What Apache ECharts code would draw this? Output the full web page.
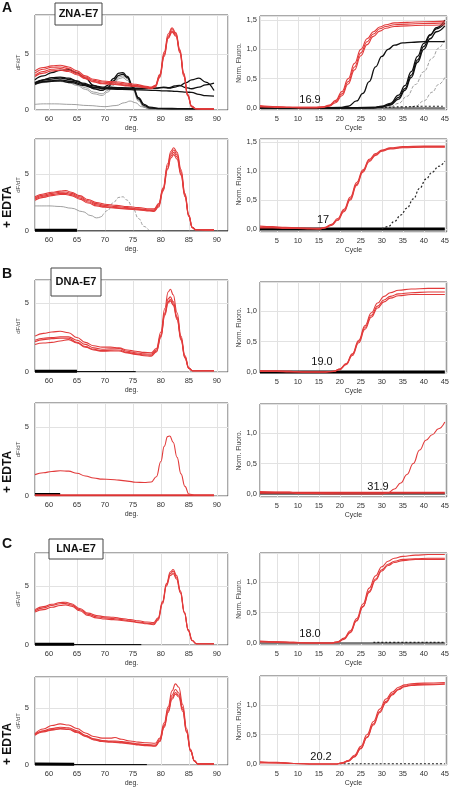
<!DOCTYPE html>
<html><head><meta charset="utf-8">
<script src="https://cdn.jsdelivr.net/npm/echarts@6/dist/echarts.min.js"></script>
<style>html,body{margin:0;padding:0;background:#fff}#c{width:452px;height:788px}</style>
</head><body><div id="c"></div>
<script>
// ---------------- DATA ----------------
// Panel A (ZNA-E7) melt curves
const AL_redX = [57.5,59,60.5,62,63.5,65,66.5,68,69.5,71,72.5,74,75.5,77,78.3,79,79.8,80.6,81.3,82,82.7,83.4,84.1,84.8,85.5,86.2,87.5,89.5];
const AL_red1 = [3.5,3.8,3.95,4.0,3.85,3.5,3.05,2.75,2.6,2.55,2.5,2.4,2.3,2.15,2.05,2.2,3.2,5.2,6.8,7.35,6.9,5.4,3.3,1.4,0.35,0.12,0.1,0.1];
const AL_red2 = [3.3,3.65,3.82,3.85,3.7,3.35,2.95,2.65,2.5,2.45,2.4,2.3,2.2,2.1,2.0,2.15,3.1,5.0,6.6,7.2,6.8,5.3,3.2,1.35,0.33,0.12,0.1,0.1];
const AL_red3 = [3.1,3.45,3.65,3.7,3.55,3.25,2.85,2.55,2.4,2.35,2.3,2.2,2.15,2.05,1.95,2.1,3.0,4.9,6.5,7.05,6.7,5.2,3.1,1.3,0.3,0.11,0.1,0.1];
const AL_red4 = [3.0,3.3,3.5,3.55,3.45,3.15,2.8,2.5,2.35,2.3,2.25,2.15,2.1,2.0,1.9,2.05,2.9,4.8,6.4,6.95,6.6,5.1,3.0,1.25,0.3,0.11,0.1,0.1];
const AL_bkX = [57.5,59,60.5,62,63.5,65,66.5,68,69.5,70.5,71.5,72.5,73.2,74,75,76,77,78,80,84,89.5];
const AL_bk1 = [2.7,3.05,3.35,3.55,3.6,3.35,2.85,2.2,1.9,2.2,2.8,3.3,3.35,3.0,2.1,1.1,0.5,0.25,0.15,0.12,0.1];
const AL_bk2 = [2.45,2.7,2.9,2.95,2.85,2.6,2.25,1.9,1.75,2.0,2.6,3.1,3.2,2.9,2.0,1.0,0.4,0.18,0.12,0.1,0.1];
const AL_gr1 = [2.35,2.55,2.65,2.65,2.55,2.3,2.0,1.6,1.45,1.75,2.4,2.95,3.05,2.8,1.9,0.9,0.3,0.1,0.08,0.05,0.05];
const AL_gr2 = [2.25,2.45,2.55,2.55,2.45,2.2,1.85,1.45,1.3,1.6,2.2,2.8,2.9,2.65,1.8,0.8,0.25,0.08,0.05,0.05,0.05];
const AL_tX = [57.5,60,62,64,66,68,70,73,76,79,80.5,81.5,82.5,83.3,84.5,85.5,86.8,88,89.5];
const AL_t1 = [2.4,2.75,2.85,2.7,2.4,2.15,2.05,2.0,1.95,1.95,2.0,1.95,2.05,2.15,2.45,2.7,2.85,2.5,1.75];
const AL_t2 = [2.3,2.6,2.7,2.55,2.3,2.05,1.95,1.9,1.9,1.95,2.05,2.0,2.15,2.2,2.0,1.9,2.05,2.25,2.4];
const AL_t3 = [2.35,2.55,2.6,2.45,2.2,2.0,1.9,1.85,1.8,1.75,1.72,1.7,1.67,1.65,1.6,1.58,1.4,1.28,1.25];
const AL_lowX = [57.5,59,61,64,67,70,72,73.5,74.5,75.5,76.5,78,80,89.5];
const AL_low = [0.5,0.55,0.55,0.5,0.4,0.3,0.4,0.65,0.8,0.65,0.3,0.1,0.05,0.05];

// Panel A amplification
const AR_redX = [1,3,5,8,11,14,16,17.5,19,20.5,22,23.5,25,26.5,28,29.5,31,33,36,40,45];
const AR_red1 = [0.04,0.03,0.02,0.01,0.01,0.01,0.02,0.05,0.13,0.28,0.5,0.76,1.0,1.18,1.3,1.38,1.42,1.45,1.46,1.47,1.48];
const AR_red2 = [0.03,0.02,0.02,0.01,0.01,0.01,0.02,0.04,0.11,0.24,0.45,0.7,0.94,1.13,1.26,1.35,1.39,1.42,1.43,1.44,1.45];
const AR_red3 = [0.02,0.02,0.01,0.01,0.0,0.0,0.01,0.03,0.09,0.21,0.41,0.65,0.89,1.08,1.22,1.31,1.36,1.39,1.4,1.41,1.42];
const AR_k1X = [1,10,15,20,22,24,25.5,27,28.5,30,31.5,33,35,37,40,45];
const AR_k1 = [0,0,0,0.01,0.03,0.12,0.25,0.45,0.7,0.88,1.0,1.07,1.11,1.12,1.13,1.13];
const AR_kX = [1,10,20,28,30,32,34,35.5,37,38.5,40,41.5,43,45];
const AR_k2 = [0,0,0,0.01,0.03,0.08,0.22,0.38,0.62,0.88,1.1,1.25,1.35,1.45];
const AR_k3 = [0,0,0,0.01,0.02,0.06,0.18,0.33,0.56,0.82,1.05,1.24,1.37,1.5];
const AR_k4 = [0,0,0,0,0.02,0.05,0.15,0.3,0.52,0.78,1.0,1.18,1.3,1.4];
const AR_d1X = [30,32,34,36,38,40,42,43.5,45];
const AR_d1 = [0,0.02,0.08,0.2,0.4,0.62,0.85,1.02,1.18];
const AR_d2X = [36,38,40,42,43.5,45];
const AR_d2 = [0,0.03,0.12,0.27,0.4,0.52];
const AR_d3X = [25,30,35,40,45];
const AR_d3 = [0,0.01,0.02,0.03,0.03];

// Panel A + EDTA melt
const AEL_redX = [57.5,59,60.5,62,63,64,65.5,67,68.5,70,72,74,76,78,78.8,79.6,80.4,81.2,81.8,82.3,82.9,83.6,84.3,85,85.6,86.2,88,89.5];
const AEL_red1 = [3.0,3.25,3.4,3.5,3.55,3.4,3.1,2.75,2.5,2.35,2.25,2.15,2.05,1.95,1.95,2.4,3.8,5.9,7.0,7.3,6.9,5.4,3.3,1.4,0.35,0.12,0.1,0.1];
const AEL_red2 = [2.9,3.15,3.3,3.4,3.42,3.3,3.0,2.65,2.4,2.25,2.15,2.05,1.95,1.85,1.85,2.3,3.7,5.7,6.8,7.1,6.7,5.2,3.2,1.35,0.33,0.12,0.1,0.1];
const AEL_red3 = [2.8,3.05,3.2,3.3,3.3,3.2,2.9,2.55,2.3,2.15,2.05,1.98,1.9,1.8,1.78,2.2,3.6,5.5,6.6,6.9,6.5,5.0,3.1,1.3,0.3,0.11,0.1,0.1];
const AEL_red4 = [2.7,2.95,3.1,3.2,3.2,3.1,2.8,2.45,2.2,2.08,2.0,1.92,1.85,1.75,1.72,2.1,3.5,5.4,6.4,6.7,6.3,4.9,3.0,1.25,0.3,0.11,0.1,0.1];
const AEL_g1X = [57.5,60,62,64,66,67.5,68.5,69.5];
const AEL_g1 = [2.2,2.2,2.15,2.0,1.7,1.35,1.15,1.3];
const AEL_g2X = [69.5,70.5,71.5,72.5,73.2,74,75,76,77,77.8];
const AEL_g2 = [1.3,1.8,2.5,2.95,3.0,2.7,2.0,1.1,0.4,0.1];
const AEL_kThX = [57.5,65]; const AEL_kTh = [0.06,0.06];

// Panel A + EDTA amplification
const AER_redX = [1,4,7,10,13,15,16.5,18,19.5,21,22.5,24,25.5,27,28.5,30,32,35,40,45];
const AER_red1 = [0.05,0.04,0.03,0.02,0.01,0.01,0.03,0.08,0.18,0.34,0.55,0.8,1.02,1.2,1.3,1.36,1.4,1.42,1.43,1.43];
const AER_red2 = [0.03,0.03,0.02,0.01,0.01,0,0.02,0.06,0.15,0.3,0.5,0.75,0.98,1.16,1.27,1.34,1.38,1.4,1.41,1.41];
const AER_red3 = [0.02,0.02,0.01,0.01,0,0,0.02,0.07,0.16,0.32,0.52,0.77,1.0,1.18,1.28,1.35,1.39,1.41,1.42,1.42];
const AER_dX = [30,31.5,33,34.5,36,37.5,39,40.5,42,43.5,45];
const AER_d = [0,0.04,0.13,0.24,0.36,0.52,0.7,0.86,0.98,1.08,1.17];

// Panel B (DNA-E7)
const BL_redX = [57.5,59,60.5,62,63.5,65,66.5,68,69.5,71,72.5,74,75.5,77,78.3,79.2,80,80.7,81.3,81.7,82.2,82.9,83.6,84.3,85,85.6,87,89.5];
const BL_red1 = [2.6,2.8,2.9,2.95,2.85,2.5,2.15,1.9,1.8,1.8,1.75,1.6,1.5,1.42,1.4,1.7,2.9,4.6,5.8,6.0,5.6,4.3,2.6,1.2,0.3,0.1,0.1,0.1];
const BL_red2 = [2.3,2.45,2.5,2.55,2.55,2.3,2.0,1.75,1.65,1.68,1.7,1.5,1.4,1.32,1.3,1.6,2.7,4.3,5.3,5.45,5.1,4.0,2.45,1.1,0.28,0.1,0.1,0.1];
const BL_red3 = [2.2,2.35,2.42,2.45,2.45,2.15,1.85,1.65,1.55,1.58,1.6,1.42,1.32,1.24,1.22,1.5,2.6,4.2,5.1,5.25,4.95,3.9,2.4,1.05,0.27,0.1,0.1,0.1];
const BL_red4 = [2.0,2.1,2.15,2.25,2.35,2.1,1.8,1.6,1.5,1.52,1.52,1.38,1.28,1.18,1.15,1.45,2.5,4.1,5.0,5.15,4.85,3.8,2.3,1.0,0.25,0.1,0.1,0.1];
const BL_kThX = [57.5,65]; const BL_kTh = [0.06,0.06];
const BL_kX = [57.5,75.5]; const BL_k = [0.03,0.03];
const BR_redX = [1,5,8,12,16,18.5,20,21.5,23,24.5,26,27.5,29,30.5,32,34,37,41,45];
const BR_red1 = [0.02,0.02,0.01,0,0,0.01,0.05,0.14,0.3,0.52,0.76,0.97,1.13,1.24,1.3,1.34,1.36,1.37,1.37];
const BR_red2 = [0.02,0.01,0.01,0,0,0.01,0.05,0.13,0.29,0.5,0.73,0.93,1.08,1.18,1.24,1.28,1.3,1.31,1.31];
const BR_red3 = [0.01,0.01,0,0,0,0.01,0.04,0.12,0.27,0.48,0.7,0.9,1.05,1.15,1.21,1.25,1.27,1.27,1.27];
const BEL_redX = [57.5,59,60.5,62,63.5,65,66.5,68,69.5,71,72.5,74,75.5,77,78.3,79.2,80,80.6,81.2,81.6,82.2,82.9,83.6,84.3,85,86,89.5];
const BEL_red = [1.55,1.68,1.78,1.83,1.8,1.65,1.45,1.3,1.22,1.2,1.15,1.08,1.0,0.98,1.02,1.4,2.5,3.6,4.3,4.35,3.9,2.8,1.6,0.7,0.15,0.05,0.05];
const BEL_r0X = [57.5,89.5]; const BEL_r0 = [0.05,0.05];
const BEL_kX = [57.5,62]; const BEL_k = [0.1,0.1];
const BER_redX = [1,8,10,20,30,31.5,33,34.5,36,37.5,39,40.5,42,43.5,45];
const BER_red = [0.04,0.03,0.01,0,0,0.02,0.08,0.18,0.32,0.5,0.72,0.88,0.97,1.07,1.18];
const BER_r0X = [1,45]; const BER_r0 = [0.02,0.02];

// Panel C (LNA-E7)
const CL_redX = [57.5,59,60.5,62,63,64,65.5,67,68.5,70,71.5,73,74.5,76,77.5,78.7,79.5,80.3,81,81.7,82.2,82.8,83.5,84.2,84.9,85.6,86.3,87.5,89.5];
const CL_red1 = [3.0,3.25,3.45,3.6,3.62,3.5,3.1,2.7,2.5,2.4,2.35,2.25,2.15,2.05,1.95,1.9,2.3,3.7,5.2,6.2,6.4,5.9,4.6,2.8,1.3,0.4,0.12,0.1,0.1];
const CL_red2 = [2.9,3.15,3.35,3.5,3.52,3.4,3.0,2.6,2.4,2.3,2.25,2.15,2.05,1.95,1.85,1.8,2.2,3.6,5.1,6.05,6.25,5.75,4.5,2.75,1.25,0.38,0.12,0.1,0.1];
const CL_red3 = [2.8,3.0,3.2,3.35,3.4,3.3,2.9,2.5,2.3,2.2,2.15,2.08,2.0,1.9,1.8,1.72,2.1,3.5,5.0,5.9,6.05,5.6,4.4,2.7,1.2,0.36,0.11,0.1,0.1];
const CL_kThX = [57.5,64.5]; const CL_kTh = [0.06,0.06];
const CL_kX = [57.5,76.5]; const CL_k = [0.03,0.03];
const CR_redX = [1,5,9,14,18,19.5,21,22.5,24,25.5,27,28.5,30,31.5,33,35,38,41,45];
const CR_red1 = [0.03,0.02,0.01,0,0,0.02,0.08,0.2,0.4,0.64,0.9,1.1,1.25,1.34,1.39,1.42,1.44,1.45,1.45];
const CR_red2 = [0.02,0.02,0.01,0,0,0.02,0.07,0.18,0.37,0.6,0.85,1.05,1.2,1.29,1.34,1.37,1.38,1.39,1.39];
const CR_red3 = [0.02,0.01,0,0,0,0.01,0.06,0.17,0.36,0.59,0.83,1.03,1.18,1.27,1.32,1.35,1.37,1.37,1.37];
const CR_kX = [28,45]; const CR_k = [0.01,0.01];
const CEL_redX = [57.5,59,60.5,62,63.5,65,66.5,68,69.5,71,71.8,73,74.5,76,77.5,79,79.8,80.6,81.3,82,82.6,83.2,83.9,84.6,85.3,86,86.6,88,89.5];
const CEL_red1 = [2.75,3.15,3.45,3.6,3.5,3.2,2.8,2.5,2.35,2.35,2.4,2.25,2.1,2.0,1.95,1.9,2.35,3.7,5.1,6.5,7.1,6.8,5.3,3.2,1.35,0.38,0.1,0.1,0.1];
const CEL_red2 = [2.7,3.0,3.2,3.3,3.25,3.0,2.6,2.3,2.15,2.1,2.1,2.05,1.95,1.85,1.78,1.75,2.2,3.5,4.9,6.1,6.6,6.3,5.0,3.0,1.3,0.36,0.1,0.1,0.1];
const CEL_red3 = [2.65,2.95,3.1,3.2,3.15,2.9,2.55,2.25,2.1,2.05,2.02,1.98,1.9,1.8,1.72,1.68,2.1,3.4,4.7,5.9,6.35,6.1,4.85,2.9,1.25,0.35,0.1,0.1,0.1];
const CEL_red4 = [2.6,2.9,3.05,3.15,3.1,2.85,2.5,2.2,2.05,2.0,1.98,1.93,1.85,1.75,1.68,1.64,2.05,3.3,4.6,5.75,6.2,5.95,4.7,2.85,1.2,0.34,0.1,0.1,0.1];
const CEL_kThX = [57.5,64.5]; const CEL_kTh = [0.08,0.06];
const CEL_kX = [57.5,77.5]; const CEL_k = [0.03,0.03];
const CER_redX = [1,5,9,14,19,20.5,22,23.5,25,26.5,28,29.5,31,32.5,34,35.5,37,40,45];
const CER_red1 = [0.04,0.03,0.01,0,0,0.02,0.06,0.15,0.3,0.5,0.72,0.93,1.1,1.22,1.3,1.34,1.36,1.37,1.38];
const CER_red2 = [0.03,0.02,0.01,0,0,0.02,0.05,0.13,0.27,0.46,0.68,0.89,1.06,1.19,1.27,1.32,1.34,1.35,1.36];
const CER_red3 = [0.02,0.02,0.01,0,0,0.01,0.05,0.12,0.26,0.45,0.66,0.87,1.04,1.17,1.26,1.31,1.33,1.34,1.35];
const CER_kX = [20,45]; const CER_k = [0.005,0.005];

const FULL_LX = [57.5,92]; const ZERO2 = [0,0];
const FULL_RX = [1,45];

// Text
const titles = ['ZNA-E7','DNA-E7','LNA-E7'];
const letters = ['A','B','C'];
const edtaLabel = '+ EDTA';
const ctLabels = ['16.9','17','19.0','31.9','18.0','20.2'];

// ---------------- CHART ----------------
const pair = (x, y) => x.map((v, i) => [v, y[i]]);
const ST = {
  red:   {color:'#e23b3b', width:1.1},
  black: {color:'#111', width:1.3},
  gray:  {color:'#888', width:0.8},
  grayD: {color:'#888', width:0.8, type:'dashed'},
  blackD:{color:'#222', width:1.2, type:[2,2]},
  thick: {color:'#000', width:3},
  base:  {color:'#111', width:1.2},
  redB:  {color:'#d33', width:2},
};
const panels = [
  {side:'L', g:{left:35, top:15, width:193, height:95}, ymax:8.5, s:[
    [AL_bkX,AL_gr1,'gray'],[AL_bkX,AL_gr2,'gray'],[AL_lowX,AL_low,'gray'],
    [AL_tX,AL_t1,'black'],[AL_tX,AL_t2,'black'],[AL_tX,AL_t3,'black'],
    [AL_bkX,AL_bk1,'black'],[AL_bkX,AL_bk2,'black'],
    [AL_redX,AL_red1,'red'],[AL_redX,AL_red2,'red'],[AL_redX,AL_red3,'red'],[AL_redX,AL_red4,'red']]},
  {side:'R', g:{left:260, top:16, width:190, height:94}, ymin:-0.034, ymax:1.568, s:[
    [FULL_RX,ZERO2,'base'],[AR_d1X,AR_d1,'grayD'],[AR_d2X,AR_d2,'grayD'],[AR_d3X,AR_d3,'blackD'],
    [AR_k1X,AR_k1,'black'],[AR_kX,AR_k2,'black'],[AR_kX,AR_k3,'black'],[AR_kX,AR_k4,'black'],
    [AR_redX,AR_red1,'red'],[AR_redX,AR_red2,'red'],[AR_redX,AR_red3,'red']]},
  {side:'L', g:{left:35, top:139, width:193, height:92}, ymax:8.07, s:[
    [FULL_LX,ZERO2,'base'],[AEL_kThX,AEL_kTh,'thick'],[AEL_g1X,AEL_g1,'gray'],[AEL_g2X,AEL_g2,'grayD'],
    [AEL_redX,AEL_red1,'red'],[AEL_redX,AEL_red2,'red'],[AEL_redX,AEL_red3,'red'],[AEL_redX,AEL_red4,'red']]},
  {side:'R', g:{left:260, top:139, width:190, height:93}, ymin:-0.052, ymax:1.552, s:[
    [FULL_RX,ZERO2,'thick'],[AER_dX,AER_d,'blackD'],
    [AER_redX,AER_red1,'red'],[AER_redX,AER_red2,'red'],[AER_redX,AER_red3,'red']]},
  {side:'L', g:{left:35, top:280, width:193, height:92}, ymax:6.67, s:[
    [BL_kX,BL_k,'base'],[BL_kThX,BL_kTh,'thick'],
    [BL_redX,BL_red1,'red'],[BL_redX,BL_red2,'red'],[BL_redX,BL_red3,'red'],[BL_redX,BL_red4,'red']]},
  {side:'R', g:{left:260, top:282, width:190, height:91}, ymin:-0.016, ymax:1.475, s:[
    [FULL_RX,ZERO2,'thick'],
    [BR_redX,BR_red1,'red'],[BR_redX,BR_red2,'red'],[BR_redX,BR_red3,'red']]},
  {side:'L', g:{left:35, top:403, width:193, height:93}, ymax:6.74, s:[
    [BEL_kX,BEL_k,'thick'],[BEL_r0X,BEL_r0,'redB'],[BEL_redX,BEL_red,'red']]},
  {side:'R', g:{left:260, top:404, width:190, height:93}, ymin:-0.05, ymax:1.475, s:[
    [FULL_RX,ZERO2,'base'],[BER_r0X,BER_r0,'redB'],[BER_redX,BER_red,'red']]},
  {side:'L', g:{left:35, top:553, width:193, height:92}, ymax:7.8, s:[
    [CL_kX,CL_k,'base'],[CL_kThX,CL_kTh,'thick'],
    [CL_redX,CL_red1,'red'],[CL_redX,CL_red2,'red'],[CL_redX,CL_red3,'red']]},
  {side:'R', g:{left:260, top:553, width:190, height:92}, ymin:-0.033, ymax:1.475, s:[
    [FULL_RX,ZERO2,'base'],[CR_kX,CR_k,'blackD'],
    [CR_redX,CR_red1,'red'],[CR_redX,CR_red2,'red'],[CR_redX,CR_red3,'red']]},
  {side:'L', g:{left:35, top:677, width:193, height:91}, ymax:7.7, s:[
    [CEL_kX,CEL_k,'base'],[CEL_kThX,CEL_kTh,'thick'],
    [CEL_redX,CEL_red1,'red'],[CEL_redX,CEL_red2,'red'],[CEL_redX,CEL_red3,'red'],[CEL_redX,CEL_red4,'red']]},
  {side:'R', g:{left:260, top:676, width:190, height:92}, ymin:-0.016, ymax:1.49, s:[
    [CER_kX,CER_k,'blackD'],
    [CER_redX,CER_red1,'red'],[CER_redX,CER_red2,'red'],[CER_redX,CER_red3,'red']]},
];

const FONT = 'Liberation Sans, Arial, sans-serif';
const grid = [], xAxis = [], yAxis = [], series = [];
panels.forEach((p, i) => {
  grid.push(Object.assign({show:true, borderColor:'#555', borderWidth:1, backgroundColor:'#fff', containLabel:false}, p.g));
  const L = p.side === 'L';
  xAxis.push({gridIndex:i, type:'value', min: L?57.5:1, max: L?92:45.5, splitNumber: L?7:9,
    name: L?'deg.':'Cycle', nameLocation:'middle', nameGap:15,
    nameTextStyle:{fontSize:7, color:'#333', fontFamily:FONT},
    axisLine:{show:false}, axisTick:{show:false},
    axisLabel:{fontSize:7.5, color:'#333', margin:5, fontFamily:FONT,
      formatter: v => (Math.abs(v % 5) < 1e-6 ? String(v) : '')},
    splitLine:{show:true, lineStyle:{color:'#e2e2e2', width:1}}});
  if (L) {
    yAxis.push({gridIndex:i, type:'value', min:0, max:p.ymax, interval:5,
      name:'dF/dT', nameLocation:'middle', nameGap:14,
      nameTextStyle:{fontSize:6, color:'#444', fontFamily:FONT},
      axisLine:{show:false}, axisTick:{show:false},
      axisLabel:{fontSize:7.5, color:'#333', margin:6, fontFamily:FONT,
        formatter: v => (Math.abs(v % 5) < 1e-6 ? String(v) : '')},
      splitLine:{show:true, lineStyle:{color:'#e2e2e2', width:1}}});
  } else {
    yAxis.push({gridIndex:i, type:'value', min:p.ymin, max:p.ymax, splitNumber:3,
      name:'Norm. Fluoro.', nameLocation:'middle', nameGap:14,
      nameTextStyle:{fontSize:6.5, color:'#444', fontFamily:FONT},
      axisLine:{show:false}, axisTick:{show:false},
      axisLabel:{fontSize:7.5, color:'#333', margin:3, fontFamily:FONT,
        formatter: v => { const h = v*2; return Math.abs(h - Math.round(h)) < 1e-6 ? v.toFixed(1).replace('.', ',') : ''; }},
      splitLine:{show:true, lineStyle:{color:'#e2e2e2', width:1}}});
  }
  p.s.forEach(([x, y, st]) => {
    series.push({type:'line', xAxisIndex:i, yAxisIndex:i, data:pair(x, y), showSymbol:false, symbol:'none',
      smooth:0.45, smoothMonotone:'x', lineStyle:Object.assign({}, ST[st]), silent:true, clip:true});
  });
});

const tStyle = (s, extra) => Object.assign({text:s, font:'11px '+FONT, fill:'#111'}, extra||{});
const graphic = [
  // panel letters
  {type:'text', left:2, top:1, style:tStyle(letters[0], {font:'bold 14px '+FONT})},
  {type:'text', left:2, top:267, style:tStyle(letters[1], {font:'bold 14px '+FONT})},
  {type:'text', left:2, top:537, style:tStyle(letters[2], {font:'bold 14px '+FONT})},
  // title boxes
  {type:'rect', shape:{x:55, y:3, width:47, height:22}, style:{fill:'#fff', stroke:'#444', lineWidth:1}, z:100},
  {type:'text', x:78.5, y:14, z:101, style:tStyle(titles[0], {font:'bold 11px '+FONT, textAlign:'center', textVerticalAlign:'middle'})},
  {type:'rect', shape:{x:51, y:268, width:50, height:28}, style:{fill:'#fff', stroke:'#444', lineWidth:1}, z:100},
  {type:'text', x:76, y:282, z:101, style:tStyle(titles[1], {font:'bold 11px '+FONT, textAlign:'center', textVerticalAlign:'middle'})},
  {type:'rect', shape:{x:49, y:539, width:54, height:20}, style:{fill:'#fff', stroke:'#444', lineWidth:1}, z:100},
  {type:'text', x:76, y:549, z:101, style:tStyle(titles[2], {font:'bold 11px '+FONT, textAlign:'center', textVerticalAlign:'middle'})},
  // + EDTA
  {type:'text', x:8, y:207, rotation:Math.PI/2, style:tStyle(edtaLabel, {font:'bold 12px '+FONT, textAlign:'center', textVerticalAlign:'middle'})},
  {type:'text', x:8, y:472, rotation:Math.PI/2, style:tStyle(edtaLabel, {font:'bold 12px '+FONT, textAlign:'center', textVerticalAlign:'middle'})},
  {type:'text', x:8, y:744, rotation:Math.PI/2, style:tStyle(edtaLabel, {font:'bold 12px '+FONT, textAlign:'center', textVerticalAlign:'middle'})},
  // Ct values
  {type:'text', x:310, y:100, z:50, style:tStyle(ctLabels[0], {textAlign:'center', textVerticalAlign:'middle'})},
  {type:'text', x:323, y:220, z:50, style:tStyle(ctLabels[1], {textAlign:'center', textVerticalAlign:'middle'})},
  {type:'text', x:322, y:362, z:50, style:tStyle(ctLabels[2], {textAlign:'center', textVerticalAlign:'middle'})},
  {type:'text', x:378, y:487, z:50, style:tStyle(ctLabels[3], {textAlign:'center', textVerticalAlign:'middle'})},
  {type:'text', x:310, y:634, z:50, style:tStyle(ctLabels[4], {textAlign:'center', textVerticalAlign:'middle'})},
  {type:'text', x:321, y:757, z:50, style:tStyle(ctLabels[5], {textAlign:'center', textVerticalAlign:'middle'})},
];

const chart = echarts.init(document.getElementById('c'), null, {renderer:'canvas'});
chart.setOption({animation:false, backgroundColor:'#fff', grid, xAxis, yAxis, series, graphic});
</script></body></html>
